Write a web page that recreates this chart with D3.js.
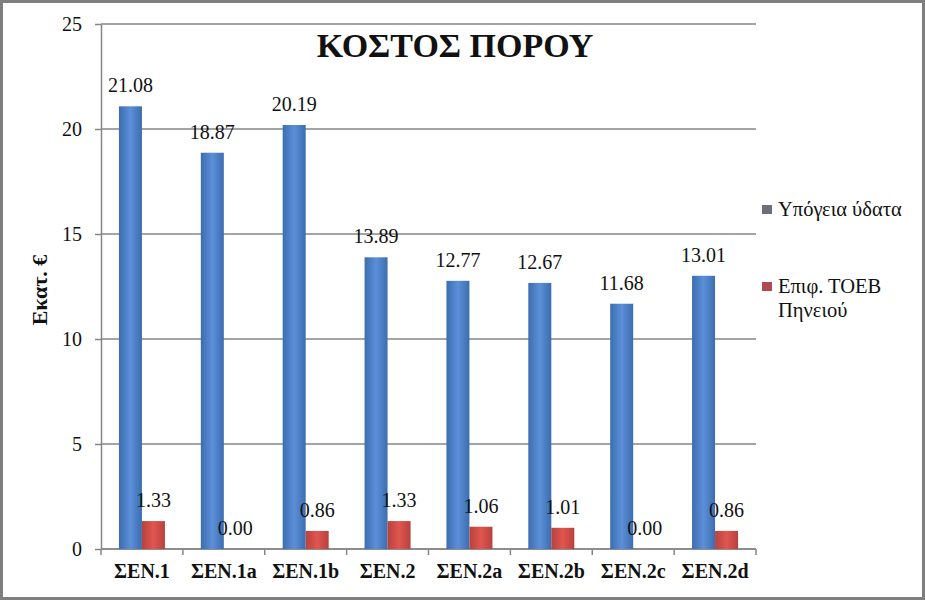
<!DOCTYPE html>
<html>
<head>
<meta charset="utf-8">
<script src="https://cdn.jsdelivr.net/npm/d3@7"></script>
<style>
  body { margin: 0; background: #fff; }
</style>
</head>
<body>
<div id="chart"></div>
<script>
// chart data
const categories = ['ΣΕΝ.1', 'ΣΕΝ.1a', 'ΣΕΝ.1b', 'ΣΕΝ.2', 'ΣΕΝ.2a', 'ΣΕΝ.2b', 'ΣΕΝ.2c', 'ΣΕΝ.2d'];
const seriesNames = ['Υπόγεια ύδατα', 'Επιφ. ΤΟΕΒ Πηνειού'];
const groundwater = [21.08, 18.87, 20.19, 13.89, 12.77, 12.67, 11.68, 13.01];
const surface = [1.33, 0.00, 0.86, 1.33, 1.06, 1.01, 0.00, 0.86];
const yTicks = [0, 5, 10, 15, 20, 25];

const FONT = "'Liberation Serif', 'DejaVu Serif', serif";
const width = 925, height = 600;
const plot = { left: 101, right: 756, top: 24, bottom: 549 };

const svg = d3.select('#chart').append('svg')
    .attr('width', width)
    .attr('height', height)
    .style('font-family', FONT);

// gradients for the bars
const defs = svg.append('defs');
const grads = [
    { id: 'gBlue', edge: '#3c6db0', mid: '#5b8fd8' },
    { id: 'gRed', edge: '#b8413d', mid: '#e0564f' }
];
grads.forEach(g => {
    const lg = defs.append('linearGradient').attr('id', g.id)
        .attr('x1', '0%').attr('x2', '100%').attr('y1', '0%').attr('y2', '0%');
    lg.append('stop').attr('offset', '0%').attr('stop-color', g.edge);
    lg.append('stop').attr('offset', '50%').attr('stop-color', g.mid);
    lg.append('stop').attr('offset', '100%').attr('stop-color', g.edge);
});

svg.append('rect')
    .attr('x', 1.5).attr('y', 1.5)
    .attr('width', width - 3).attr('height', height - 3)
    .attr('fill', '#fff')
    .attr('stroke', '#7f7f7f')
    .attr('stroke-width', 3);

const x0 = d3.scaleBand()
    .domain(categories)
    .range([plot.left, plot.right]);

const x1 = d3.scaleBand()
    .domain(seriesNames)
    .range([0, x0.bandwidth()])
    .paddingOuter(0.78);

const y = d3.scaleLinear()
    .domain([0, 25])
    .range([plot.bottom, plot.top]);

const color = d3.scaleOrdinal()
    .domain(seriesNames)
    .range(['url(#gBlue)', 'url(#gRed)']);

// gridlines
svg.append('g')
    .selectAll('line')
    .data(yTicks)
    .enter()
    .append('line')
    .attr('x1', plot.left)
    .attr('x2', plot.right)
    .attr('y1', d => y(d))
    .attr('y2', d => y(d))
    .attr('stroke', '#868686')
    .attr('stroke-width', 1.5);

// y axis
const yAxis = svg.append('g')
    .attr('transform', `translate(${plot.left},0)`)
    .call(d3.axisLeft(y).tickValues(yTicks).tickSize(6).tickPadding(13).tickSizeOuter(0))
    .attr('font-family', null)
    .attr('font-size', null);
yAxis.select('.domain').attr('stroke', '#868686').attr('stroke-width', 1.5);
yAxis.selectAll('.tick line').attr('stroke', '#868686').attr('stroke-width', 1.5);
yAxis.selectAll('.tick text')
    .style('font-family', FONT)
    .style('font-size', '20px')
    .attr('fill', '#111');

// x axis: ticks on category boundaries
const xAxisG = svg.append('g');
xAxisG.append('line')
    .attr('x1', plot.left).attr('x2', plot.right)
    .attr('y1', y(0)).attr('y2', y(0))
    .attr('stroke', '#868686').attr('stroke-width', 1.5);
xAxisG.selectAll('line.tk')
    .data(categories.concat(['end']))
    .enter()
    .append('line')
    .attr('class', 'tk')
    .attr('x1', (d, i) => i < categories.length ? x0(d) : plot.right)
    .attr('x2', (d, i) => i < categories.length ? x0(d) : plot.right)
    .attr('y1', y(0))
    .attr('y2', y(0) + 6)
    .attr('stroke', '#868686').attr('stroke-width', 1.5);
xAxisG.selectAll('text')
    .data(categories)
    .enter()
    .append('text')
    .attr('x', d => x0(d) + x0.bandwidth() / 2)
    .attr('y', 578)
    .attr('text-anchor', 'middle')
    .style('font-family', FONT)
    .style('font-size', '20px')
    .style('font-weight', 'bold')
    .attr('fill', '#111')
    .text(d => d);

// bars
const rows = categories.map((c, i) => ({
    category: c,
    values: [
        { series: seriesNames[0], value: groundwater[i] },
        { series: seriesNames[1], value: surface[i] }
    ]
}));

const groups = svg.append('g')
    .selectAll('g')
    .data(rows)
    .enter()
    .append('g')
    .attr('transform', d => `translate(${x0(d.category)},0)`);

groups.selectAll('rect')
    .data(d => d.values)
    .enter()
    .append('rect')
    .attr('x', d => x1(d.series))
    .attr('y', d => y(d.value))
    .attr('width', x1.bandwidth())
    .attr('height', d => y(0) - y(d.value))
    .attr('fill', d => color(d.series));

groups.selectAll('text')
    .data(d => d.values)
    .enter()
    .append('text')
    .attr('x', d => x1(d.series) + x1.bandwidth() / 2)
    .attr('y', d => y(d.value) - 14)
    .attr('text-anchor', 'middle')
    .style('font-family', FONT)
    .style('font-size', '20px')
    .attr('fill', '#111')
    .text(d => d.value.toFixed(2));

// title
svg.append('text')
    .attr('x', 455)
    .attr('y', 57)
    .attr('text-anchor', 'middle')
    .style('font-family', FONT)
    .style('font-size', '34px')
    .style('font-weight', 'bold')
    .attr('fill', '#111')
    .text('ΚΟΣΤΟΣ ΠΟΡΟΥ');

// y axis title
svg.append('text')
    .attr('transform', 'translate(47,290) rotate(-90)')
    .attr('text-anchor', 'middle')
    .style('font-family', FONT)
    .style('font-size', '22px')
    .style('font-weight', 'bold')
    .attr('fill', '#111')
    .text('Εκατ. €');

// legend
const legend = svg.append('g').attr('transform', 'translate(762,0)');
const legendItems = [
    { lines: ['Υπόγεια ύδατα'], y: 216, mark: '#6e6e78' },
    { lines: ['Επιφ. ΤΟΕΒ', 'Πηνειού'], y: 293, mark: '#b04a52' }
];
legendItems.forEach(item => {
    legend.append('rect')
        .attr('x', 0)
        .attr('y', item.y - 11)
        .attr('width', 10)
        .attr('height', 9)
        .attr('fill', item.mark);
    const t = legend.append('text')
        .attr('x', 16)
        .attr('y', item.y)
        .style('font-family', FONT)
        .style('font-size', '20.5px')
        .attr('fill', '#111');
    item.lines.forEach((l, i) => {
        t.append('tspan')
            .attr('x', 16)
            .attr('dy', i === 0 ? 0 : 24)
            .text(l);
    });
});
</script>
</body>
</html>
